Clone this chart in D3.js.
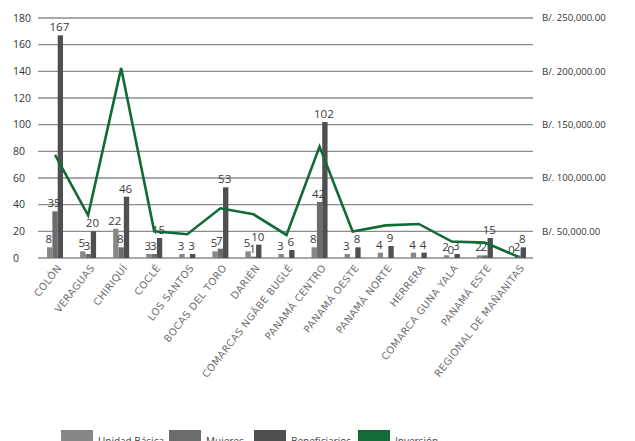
<!DOCTYPE html>
<meta charset="utf-8">
<style>
body { margin: 0; background: #fff; }
.eje text { font-family: "Open Sans", sans-serif; font-size: 10.5px; fill: #333; }
.der text { font-family: "Open Sans", sans-serif; font-size: 9.6px; fill: #333; }
.valor { font-family: "Open Sans", sans-serif; font-size: 11.5px; fill: #3a3a3a; text-anchor: middle; }
.cat { font-family: "DejaVu Sans", sans-serif; font-size: 10px; letter-spacing: 0.4px; fill: #6e6e6e; text-anchor: end; }
.ley { font-family: "Open Sans", sans-serif; font-size: 10px; fill: #444; }
</style>
<body>
<script src="https://d3js.org/d3.v7.min.js"></script>
<script>

var regiones = ["COLÓN", "VERAGUAS", "CHIRIQUÍ", "COCLÉ", "LOS SANTOS", "BOCAS DEL TORO",
  "DARIÉN", "COMARCAS NGÄBE BUGLÉ", "PANAMÁ CENTRO", "PANAMÁ OESTE", "PANAMÁ NORTE",
  "HERRERA", "COMARCA GUNA YALA", "PANAMÁ ESTE", "REGIONAL DE MAÑANITAS"];
var unidadBasica  = [8, 5, 22, 3, 3, 5, 5, 3, 8, 3, 4, 4, 2, 2, 0];
var mujeres       = [35, 3, 8, 3, null, 7, 1, null, 42, null, null, null, 0, 2, 2];
var beneficiarios = [167, 20, 46, 15, 3, 53, 10, 6, 102, 8, 9, 4, 3, 15, 8];
var inversion = [121600, 65000, 203000, 50000, 47300, 71600, 66000, 46600,
  129400, 49800, 55600, 56900, 40400, 39400, 26300];

var ticksIzq = [0, 20, 40, 60, 80, 100, 120, 140, 160, 180];
var ticksDer = [50000, 100000, 150000, 200000, 250000];
var series = ["Unidad Básica", "Mujeres", "Beneficiarios"];
var colores = ["#878787", "#6c6c6d", "#4f4f51"];
var verde = "#126b37";

var W = 635, H = 441;
var svg = d3.select("body").append("svg").attr("width", W).attr("height", H);

var x = d3.scaleBand().domain(regiones).range([38.5, 534.5]).padding(0);
var xs = d3.scaleBand().domain(series).range([-8, 8]).padding(0);
var y = d3.scaleLinear().domain([0, 180]).range([258, 18]);
var y2 = d3.scaleLinear().domain([25000, 250000]).range([258, 18]);

// lineas de cuadricula
svg.append("g")
  .selectAll("line")
  .data(ticksIzq)
  .enter().append("line")
    .attr("x1", 38).attr("x2", 533)
    .attr("y1", function(d) { return y(d); })
    .attr("y2", function(d) { return y(d); })
    .style("stroke", "#8c8c8c")
    .style("stroke-width", 1.3);

// eje izquierdo
svg.append("g").attr("class", "eje")
  .selectAll("text")
  .data(ticksIzq)
  .enter().append("text")
    .attr("x", 13)
    .attr("y", function(d) { return y(d); })
    .attr("dy", "0.35em")
    .text(function(d) { return d; });

// eje derecho
svg.append("g").attr("class", "der")
  .selectAll("text")
  .data(ticksDer)
  .enter().append("text")
    .attr("x", 542)
    .attr("y", function(d) { return y2(d); })
    .attr("dy", "0.35em")
    .text(function(d) { return "B/. " + d3.format(",.2f")(d); });

var datos = [];
regiones.forEach(function(r, i) {
  [unidadBasica, mujeres, beneficiarios].forEach(function(arr, j) {
    if (arr[i] !== null) datos.push({ region: r, serie: series[j], j: j, v: arr[i] });
  });
});

var bx = function(d) { return x(d.region) + x.bandwidth() / 2 + xs(d.serie); };

svg.append("g")
  .selectAll("rect")
  .data(datos)
  .enter().append("rect")
    .attr("x", bx)
    .attr("width", xs.bandwidth())
    .attr("y", function(d) { return y(d.v); })
    .attr("height", function(d) { return y(0) - y(d.v); })
    .style("fill", function(d) { return colores[d.j]; });

svg.append("g")
  .selectAll("text")
  .data(datos)
  .enter().append("text")
    .attr("class", "valor")
    .attr("x", function(d) { return bx(d) + xs.bandwidth() / 2 - 1; })
    .attr("y", function(d) { return y(d.v) - 4; })
    .text(function(d) { return d.v; });

// linea de inversion
var linea = d3.line()
  .x(function(d, i) { return x(regiones[i]) + x.bandwidth() / 2; })
  .y(function(d) { return y2(d); });

svg.append("path")
  .datum(inversion)
  .attr("d", linea)
  .style("fill", "none")
  .style("stroke", verde)
  .style("stroke-width", 2.6);

// etiquetas de categorias
svg.append("g")
  .selectAll("text")
  .data(regiones)
  .enter().append("text")
    .attr("class", "cat")
    .attr("transform", function(d) {
      return "translate(" + (x(d) + x.bandwidth() / 2 + 7) + ",268) rotate(-52)";
    })
    .text(function(d) { return d; });

// leyenda
var ley = [
  { t: "Unidad Básica", c: colores[0], x: 61 },
  { t: "Mujeres", c: colores[1], x: 169 },
  { t: "Beneficiarios", c: colores[2], x: 254 },
  { t: "Inversión", c: verde, x: 358 }
];
var lg = svg.append("g").selectAll("g").data(ley).enter().append("g");
lg.append("rect")
  .attr("x", function(d) { return d.x; })
  .attr("y", 430)
  .attr("width", 32).attr("height", 14)
  .style("fill", function(d) { return d.c; });
lg.append("text")
  .attr("class", "ley")
  .attr("x", function(d) { return d.x + 37; })
  .attr("y", 445)
  .text(function(d) { return d.t; });

</script>
</body>
